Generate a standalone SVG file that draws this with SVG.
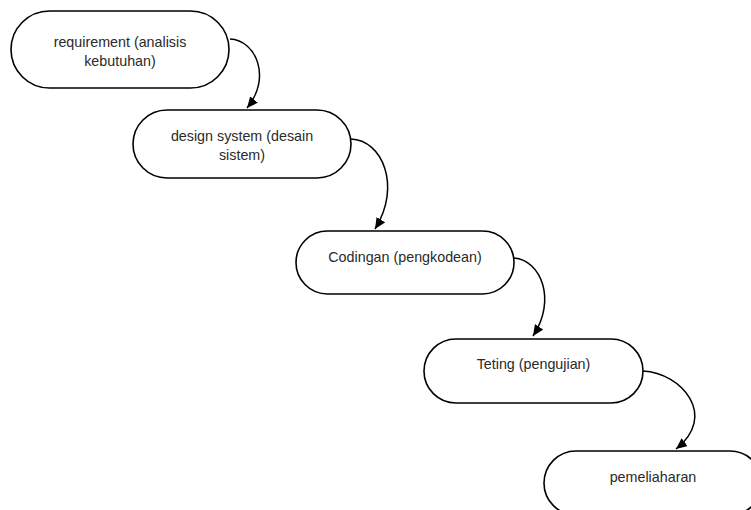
<svg xmlns="http://www.w3.org/2000/svg" width="751" height="510" viewBox="0 0 751 510">
  <style>
    .node rect { fill: #ffffff; stroke: #000000; stroke-width: 1.6; }
    .node text { font-family: "Liberation Sans", Arial, sans-serif; font-size: 14.3px; fill: #2a2a2a; text-anchor: middle; }
    .edge { fill: none; stroke: #000000; stroke-width: 1.5; marker-end: url(#arrow); }
  </style>
  <defs>
    <marker id="arrow" markerUnits="userSpaceOnUse" markerWidth="12" markerHeight="10" refX="11" refY="5" orient="auto">
      <path d="M0,0 L11,5 L0,10 Z" fill="#000000"/>
    </marker>
  </defs>
  <rect width="751" height="510" fill="#ffffff"/>

  <g id="node-requirement" class="node">
    <rect x="11" y="11" width="218" height="77" rx="38.5" ry="38.5"/>
    <text x="120" y="47">requirement (analisis</text>
    <text x="120" y="66">kebutuhan)</text>
  </g>

  <g id="node-design" class="node">
    <rect x="133" y="110" width="218" height="68" rx="34" ry="34"/>
    <text x="242" y="141">design system (desain</text>
    <text x="242" y="160">sistem)</text>
  </g>

  <g id="node-coding" class="node">
    <rect x="296" y="231" width="218" height="63" rx="31.5" ry="31.5"/>
    <text x="405" y="262">Codingan (pengkodean)</text>
  </g>

  <g id="node-testing" class="node">
    <rect x="424" y="339" width="219" height="64" rx="32" ry="32"/>
    <text x="533.5" y="369">Teting (pengujian)</text>
  </g>

  <g id="node-maintenance" class="node">
    <rect x="544" y="451" width="218" height="64" rx="32" ry="32"/>
    <text x="653" y="482">pemeliaharan</text>
  </g>

  <g id="connectors">
    <path class="edge" d="M230,39 C256,40 272,78 247,108"/>
    <path class="edge" d="M351,139 C382,140 402,186 375,229"/>
    <path class="edge" d="M514,258 C541,260 557,300 533,336"/>
    <path class="edge" d="M643,371 C682,373 718,416 676,449"/>
  </g>
</svg>
